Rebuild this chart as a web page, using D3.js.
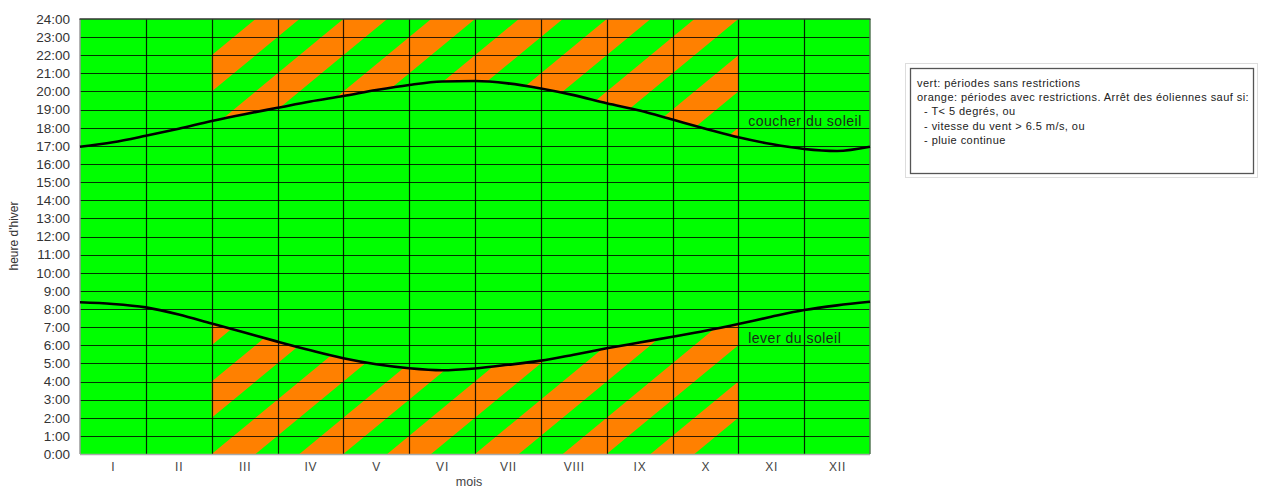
<!DOCTYPE html>
<html>
<head>
<meta charset="utf-8">
<script src="https://cdn.jsdelivr.net/npm/d3@7"></script>
<style>
  body { margin: 0; background: #fff; }
  svg { font-family: "Liberation Sans", Arial, sans-serif; }
</style>
</head>
<body>
<div id="chart"></div>
<script>
// Width and height
var chart_width  = 1261;
var chart_height = 488;

// data
var months = ['I','II','III','IV','V','VI','VII','VIII','IX','X','XI','XII'];
var hourTicks = [0,1,2,3,4,5,6,7,8,9,10,11,12,13,14,15,16,17,18,19,20,21,22,23,24];
// position in months (0 = 1 Jan, 12 = 31 Dec), sampled twice a month
var dayPos = [0,0.5,1,1.5,2,2.5,3,3.5,4,4.5,5,5.5,6,6.5,7,7.5,8,8.5,9,9.5,10,10.5,11,11.5,12];
// sunset (winter time, hours)
var sunset = [16.95,17.2,17.56,17.95,18.37,18.75,19.1,19.45,19.75,20.08,20.36,20.55,20.58,
              20.45,20.17,19.8,19.35,18.95,18.45,17.95,17.47,17.1,16.83,16.72,16.95];
// sunrise (winter time, hours)
var sunrise = [8.37,8.28,8.09,7.7,7.2,6.7,6.2,5.72,5.28,4.95,4.73,4.62,4.72,
               4.92,5.15,5.48,5.83,6.15,6.47,6.8,7.17,7.57,7.94,8.2,8.4];
// restricted period: from start of March to end of October
var restrictStart = 2;
var restrictEnd   = 10;
var legendLines = [
    'vert: périodes sans restrictions',
    'orange: périodes avec restrictions. Arrêt des éoliennes sauf si:',
    '  - T< 5 degrés, ou',
    '  - vitesse du vent > 6.5 m/s, ou',
    '  - pluie continue'
];

var green  = '#00ff00';
var orange = '#ff8000';

var x = d3.scaleLinear().domain([0, 12]).range([80, 870]);
var y = d3.scaleLinear().domain([0, 24]).range([454, 19]);

var svg = d3.select('#chart')
    .append('svg')
    .attr('width', chart_width)
    .attr('height', chart_height);

var defs = svg.append('defs');

var sunsetPts  = dayPos.map(function(d, i){ return [d, sunset[i]]; });
var sunrisePts = dayPos.map(function(d, i){ return [d, sunrise[i]]; });

var curve = d3.curveMonotoneX;

// clip areas for the stripes
var upperArea = d3.area().curve(curve)
    .x(function(d){ return x(d[0]); })
    .y0(function(d){ return y(d[1]); })
    .y1(y(24));
var lowerArea = d3.area().curve(curve)
    .x(function(d){ return x(d[0]); })
    .y0(y(0))
    .y1(function(d){ return y(d[1]); });

defs.append('clipPath').attr('id', 'clip-up')
    .append('path').attr('d', upperArea(sunsetPts));
defs.append('clipPath').attr('id', 'clip-low')
    .append('path').attr('d', lowerArea(sunrisePts));

// background
svg.append('rect')
    .attr('x', x(0)).attr('y', y(24))
    .attr('width', x(12) - x(0)).attr('height', y(0) - y(24))
    .attr('fill', green);

// diagonal stripes: 3 h rise per month, 4 h period, 2 h orange
var band = d3.line()
    .x(function(d){ return x(d[0]); })
    .y(function(d){ return y(d[1]); });
function stripes(clipId, offset){
    var g = svg.append('g').attr('clip-path', 'url(#' + clipId + ')');
    var rise = 3 * (restrictEnd - restrictStart);
    for (var k = -10; k <= 10; k++){
        var b = 4 * k + offset;
        g.append('path')
            .attr('d', band([
                [restrictStart, b], [restrictEnd, b + rise],
                [restrictEnd, b + rise + 2], [restrictStart, b + 2]
            ]) + 'Z')
            .attr('fill', orange);
    }
}
stripes('clip-up', 0);
stripes('clip-low', 2);

// grid
svg.append('g').selectAll('line')
    .data(hourTicks.slice(1, -1))
    .enter().append('line')
    .attr('x1', x(0)).attr('x2', x(12))
    .attr('y1', function(d){ return Math.round(y(d)) + 0.5; })
    .attr('y2', function(d){ return Math.round(y(d)) + 0.5; })
    .attr('stroke', '#000').attr('stroke-opacity', 0.8).attr('stroke-width', 1);
svg.append('g').selectAll('line')
    .data(d3.range(1, 12))
    .enter().append('line')
    .attr('x1', function(d){ return Math.round(x(d)) + 0.5; })
    .attr('x2', function(d){ return Math.round(x(d)) + 0.5; })
    .attr('y1', y(24)).attr('y2', y(0))
    .attr('stroke', '#000').attr('stroke-opacity', 0.85).attr('stroke-width', 1.2);

// frame
svg.append('line').attr('x1', x(0)).attr('x2', x(0)).attr('y1', y(24)).attr('y2', y(0))
    .attr('stroke', '#999').attr('stroke-width', 1.5);
svg.append('line').attr('x1', x(0)).attr('x2', x(12)).attr('y1', y(0) + 0.5).attr('y2', y(0) + 0.5)
    .attr('stroke', '#aaa').attr('stroke-width', 1.5);
svg.append('line').attr('x1', x(12)).attr('x2', x(12)).attr('y1', y(24)).attr('y2', y(0))
    .attr('stroke', '#557755').attr('stroke-width', 1.5);
svg.append('line').attr('x1', x(0) - 0.5).attr('x2', x(12) + 0.5).attr('y1', y(24)).attr('y2', y(24))
    .attr('stroke', '#333').attr('stroke-width', 1.5);

// sun curves
var sunLine = d3.line().curve(curve)
    .x(function(d){ return x(d[0]); })
    .y(function(d){ return y(d[1]); });
[sunsetPts, sunrisePts].forEach(function(pts){
    svg.append('path')
        .attr('d', sunLine(pts))
        .attr('fill', 'none')
        .attr('stroke', '#000')
        .attr('stroke-width', 2.6);
});

svg.append('text').attr('x', x(10.15)).attr('y', y(18.1))
    .attr('font-size', 14).attr('letter-spacing', 0.5).attr('fill', '#1a2a1a').text('coucher du soleil');
svg.append('text').attr('x', x(10.15)).attr('y', y(6.1))
    .attr('font-size', 14).attr('letter-spacing', 0.5).attr('fill', '#1a2a1a').text('lever du soleil');

// axes
var yAxis = d3.axisLeft(y).tickValues(hourTicks).tickSize(0).tickPadding(10)
    .tickFormat(function(d){ return d + ':00'; });
var gy = svg.append('g').attr('transform', 'translate(' + x(0) + ',0)').call(yAxis);
gy.select('.domain').remove();
gy.selectAll('text').attr('font-size', 13.5).attr('fill', '#333')
    .attr('font-family', '"Liberation Sans", Arial, sans-serif');

var xAxis = d3.axisBottom(x).tickValues(d3.range(12).map(function(i){ return i + 0.5; }))
    .tickSize(0).tickPadding(8)
    .tickFormat(function(d, i){ return months[i]; });
var gx = svg.append('g').attr('transform', 'translate(0,' + y(0) + ')').call(xAxis);
gx.select('.domain').remove();
gx.selectAll('text').attr('font-size', 12).attr('fill', '#444').attr('letter-spacing', 0.8)
    .attr('font-family', '"Liberation Sans", Arial, sans-serif');

svg.append('text').attr('x', 469).attr('y', 486)
    .attr('text-anchor', 'middle').attr('font-size', 12.5).attr('fill', '#444').text('mois');
svg.append('text')
    .attr('transform', 'translate(18,' + 236 + ') rotate(-90)')
    .attr('text-anchor', 'middle').attr('font-size', 12).attr('fill', '#333').text("heure d'hiver");

// legend box
svg.append('rect').attr('x', 905.5).attr('y', 63.5).attr('width', 352).attr('height', 114)
    .attr('fill', '#fff').attr('stroke', '#ddd').attr('stroke-width', 1);
svg.append('rect').attr('x', 910.5).attr('y', 68.5).attr('width', 343).attr('height', 105)
    .attr('fill', '#fff').attr('stroke', '#555').attr('stroke-width', 1.3);
svg.append('g').selectAll('text')
    .data(legendLines)
    .enter().append('text')
    .attr('x', 917)
    .attr('y', function(d, i){ return 87 + i * 14.2; })
    .attr('font-size', 11)
    .attr('letter-spacing', 0.45)
    .attr('fill', '#222')
    .attr('xml:space', 'preserve')
    .style('white-space', 'pre')
    .text(function(d){ return d; });
</script>
</body>
</html>
